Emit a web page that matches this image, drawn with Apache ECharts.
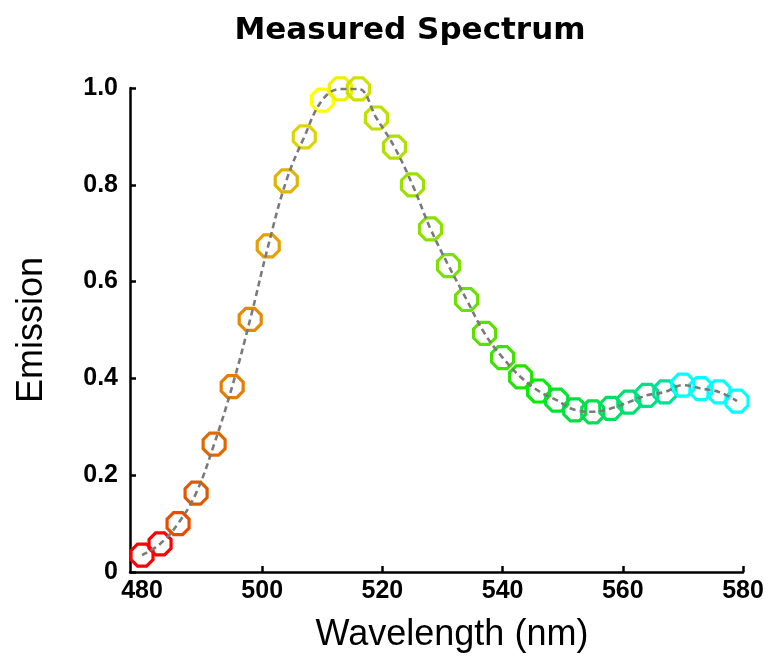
<!DOCTYPE html>
<html>
<head>
<meta charset="utf-8">
<script src="https://cdn.jsdelivr.net/npm/echarts@6/dist/echarts.min.js"></script>
<style>html,body{margin:0;padding:0;background:#fff}#c{width:773px;height:658px}</style>
</head>
<body>
<div id="c"></div>
<script>
var wavelengths = [480,483,486,489,492,495,498,501,504,507,510,513,516,519,522,525,528,531,534,537,540,543,546,549,552,555,558,561,564,567,570,573,576,579];
var emission = [0.035,0.058,0.100,0.163,0.264,0.383,0.522,0.674,0.808,0.899,0.975,0.998,0.998,0.938,0.878,0.800,0.709,0.633,0.563,0.493,0.443,0.403,0.374,0.355,0.335,0.331,0.338,0.351,0.365,0.372,0.386,0.379,0.372,0.353];
var markerColors = ['#ff0000','#ff0000','#e84c00','#e05800','#e06800','#e67c00','#e68800','#e6a000','#e0b400','#e0d400','#ffff00','#f0f000','#d0e000','#c0e000','#b0e000','#9ce000','#8ce000','#7ce000','#6ce000','#5ce000','#40e000','#22e400','#00ee00','#00e430','#00e040','#00e050','#00e060','#00e070','#00e084','#00e098','#00ffff','#00ffff','#00ffff','#00ffff'];
var xLabelValues = [480,500,520,540,560,580];
var xTickValues = [500,520,540,560,580];

var scatterData = wavelengths.map(function(w,i){
  return {value:[w, emission[i]], itemStyle:{borderColor: markerColors[i]}};
});
var lineData = wavelengths.map(function(w,i){ return [w, emission[i]]; });
var octagon = 'path://M4.14,0 L9.86,0 L14,4.14 L14,9.86 L9.86,14 L4.14,14 L0,9.86 L0,4.14 Z';

var chart = echarts.init(document.getElementById('c'));
chart.setOption({
  animation:false,
  backgroundColor:'#ffffff',
  title:{
    text:'Measured Spectrum',
    left:405, top:10, textAlign:'center',
    textStyle:{fontFamily:'DejaVu Sans', fontWeight:'bold', fontSize:31, color:'#000'}
  },
  grid:{left:130, right:30, top:88, bottom:85, containLabel:false},
  xAxis:{
    type:'value', min:478, max:580,
    name:'Wavelength (nm)', nameLocation:'middle', nameGap:45,
    nameTextStyle:{fontFamily:'Liberation Sans', fontSize:36, color:'#000', padding:[0,0,0,31]},
    axisLine:{show:true, lineStyle:{color:'#000', width:2.5}},
    axisTick:{show:true, inside:true, length:6, lineStyle:{color:'#000', width:2.5}, customValues:xTickValues},
    axisLabel:{customValues:xLabelValues, margin:7, fontFamily:'Liberation Sans', fontWeight:'bold', fontSize:25, color:'#000'},
    splitLine:{show:false}
  },
  yAxis:{
    type:'value', min:0, max:1, interval:0.2,
    name:'Emission', nameLocation:'middle', nameGap:80,
    nameTextStyle:{fontFamily:'Liberation Sans', fontSize:36, color:'#000'},
    axisLine:{show:true, lineStyle:{color:'#000', width:2.5}},
    axisTick:{show:true, inside:true, length:6, lineStyle:{color:'#000', width:2.5}},
    axisLabel:{margin:12, fontFamily:'Liberation Sans', fontWeight:'bold', fontSize:25, color:'#000',
      formatter:function(v){ return v===0 ? '0' : v.toFixed(1); }},
    splitLine:{show:false}
  },
  series:[
    {
      type:'scatter', data:scatterData, symbol:octagon, symbolSize:22, z:2,
      itemStyle:{color:'rgba(0,0,0,0)', borderWidth:3.2, opacity:1}
    },
    {
      type:'line', data:lineData, smooth:0.4, symbol:'none', z:3,
      lineStyle:{color:'#7a7a7a', width:2.6, type:[6,4]}
    }
  ]
});
</script>
</body>
</html>
